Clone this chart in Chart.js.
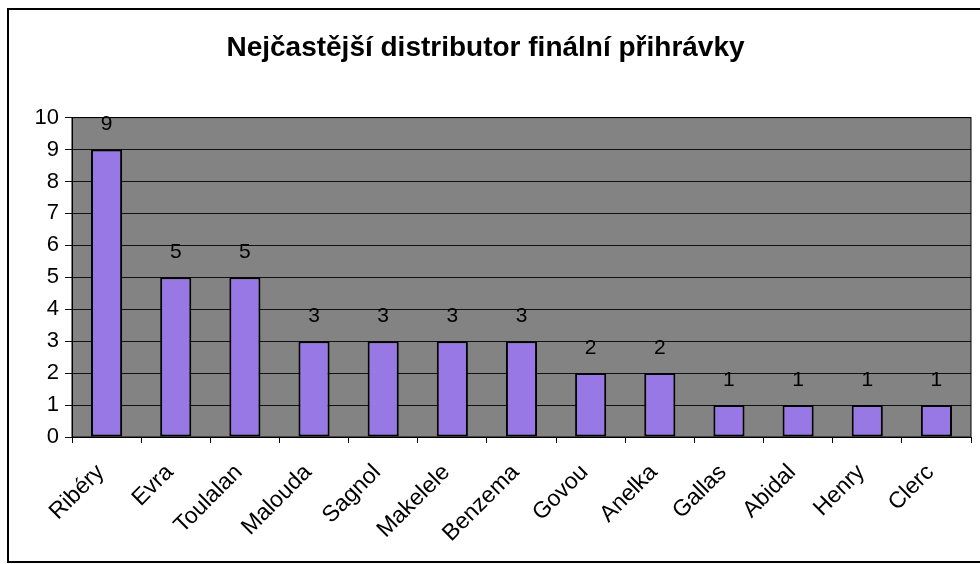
<!DOCTYPE html>
<html>
<head>
<meta charset="utf-8">
<script src="https://cdn.jsdelivr.net/npm/chart.js@4/dist/chart.umd.min.js"></script>
<style>
  html, body { margin: 0; padding: 0; background: #fff; }
  #wrap { width: 980px; height: 564px; }
</style>
</head>
<body>
<div id="wrap"><canvas id="graf" width="980" height="564"></canvas></div>
<script>
const hraci = ['Ribéry', 'Evra', 'Toulalan', 'Malouda', 'Sagnol', 'Makelele', 'Benzema', 'Govou', 'Anelka', 'Gallas', 'Abidal', 'Henry', 'Clerc'];
const prihravky = [9, 5, 5, 3, 3, 3, 3, 2, 2, 1, 1, 1, 1];
const nazev = 'Nejčastější distributor finální přihrávky';
const pismo = '"Liberation Sans", Arial, sans-serif';

// sede pozadi plochy a ramecek
const pozadi = {
    id: 'pozadi',
    beforeDraw(chart) {
        const { ctx, chartArea: a } = chart;
        ctx.save();
        ctx.fillStyle = '#fff';
        ctx.fillRect(0, 0, chart.width, chart.height);
        ctx.strokeStyle = '#000';
        ctx.lineWidth = 2;
        ctx.beginPath();
        ctx.moveTo(chart.width, 9);
        ctx.lineTo(8, 9);
        ctx.lineTo(8, 562);
        ctx.lineTo(chart.width, 562);
        ctx.stroke();
        ctx.fillStyle = '#838383';
        ctx.fillRect(a.left, a.top, a.right - a.left, a.bottom - a.top);
        ctx.restore();
    },
    afterDatasetsDraw(chart) {
        const { ctx, chartArea: a } = chart;
        ctx.save();
        ctx.strokeStyle = '#000';
        ctx.lineWidth = 1;
        ctx.strokeRect(a.left, a.top, a.right - a.left, a.bottom - a.top);
        // hodnoty nad sloupci
        ctx.fillStyle = '#000';
        ctx.font = '21px ' + pismo;
        ctx.textAlign = 'center';
        ctx.textBaseline = 'middle';
        chart.getDatasetMeta(0).data.forEach((bar, i) => {
            ctx.fillText(prihravky[i], bar.x, bar.y - 25);
        });
        ctx.restore();
    }
};

const ctx = document.getElementById('graf').getContext('2d');
const graf = new Chart(ctx, {
    type: 'bar',
    data: {
        labels: hraci,
        datasets: [{
            data: prihravky,
            backgroundColor: '#9878e4',
            borderColor: '#000',
            borderWidth: 2,
            borderSkipped: false,
            barPercentage: 0.45,
            categoryPercentage: 1
        }]
    },
    options: {
        responsive: false,
        animation: false,
        layout: { padding: { left: 0, right: 9, top: 0, bottom: 0 } },
        plugins: {
            legend: { display: false },
            tooltip: { enabled: false },
            title: {
                display: true,
                text: nazev,
                color: '#000',
                font: { family: pismo, size: 28, weight: 'bold' },
                padding: { top: 31, bottom: 53 }
            }
        },
        scales: {
            y: {
                min: 0,
                max: 10,
                afterFit(s) { s.width = 72; },
                ticks: {
                    stepSize: 1,
                    color: '#000',
                    padding: 6,
                    font: { family: pismo, size: 22 }
                },
                grid: { color: '#111', lineWidth: 1, tickLength: 7 },
                border: { color: '#000' }
            },
            x: {
                afterFit(s) { s.height = 127; },
                ticks: {
                    color: '#000',
                    minRotation: 45,
                    maxRotation: 45,
                    padding: 16,
                    labelOffset: -6,
                    font: { family: pismo, size: 23 }
                },
                grid: { drawOnChartArea: false, color: '#000', tickLength: 6 },
                border: { color: '#000' }
            }
        }
    },
    plugins: [pozadi]
});
</script>
</body>
</html>
